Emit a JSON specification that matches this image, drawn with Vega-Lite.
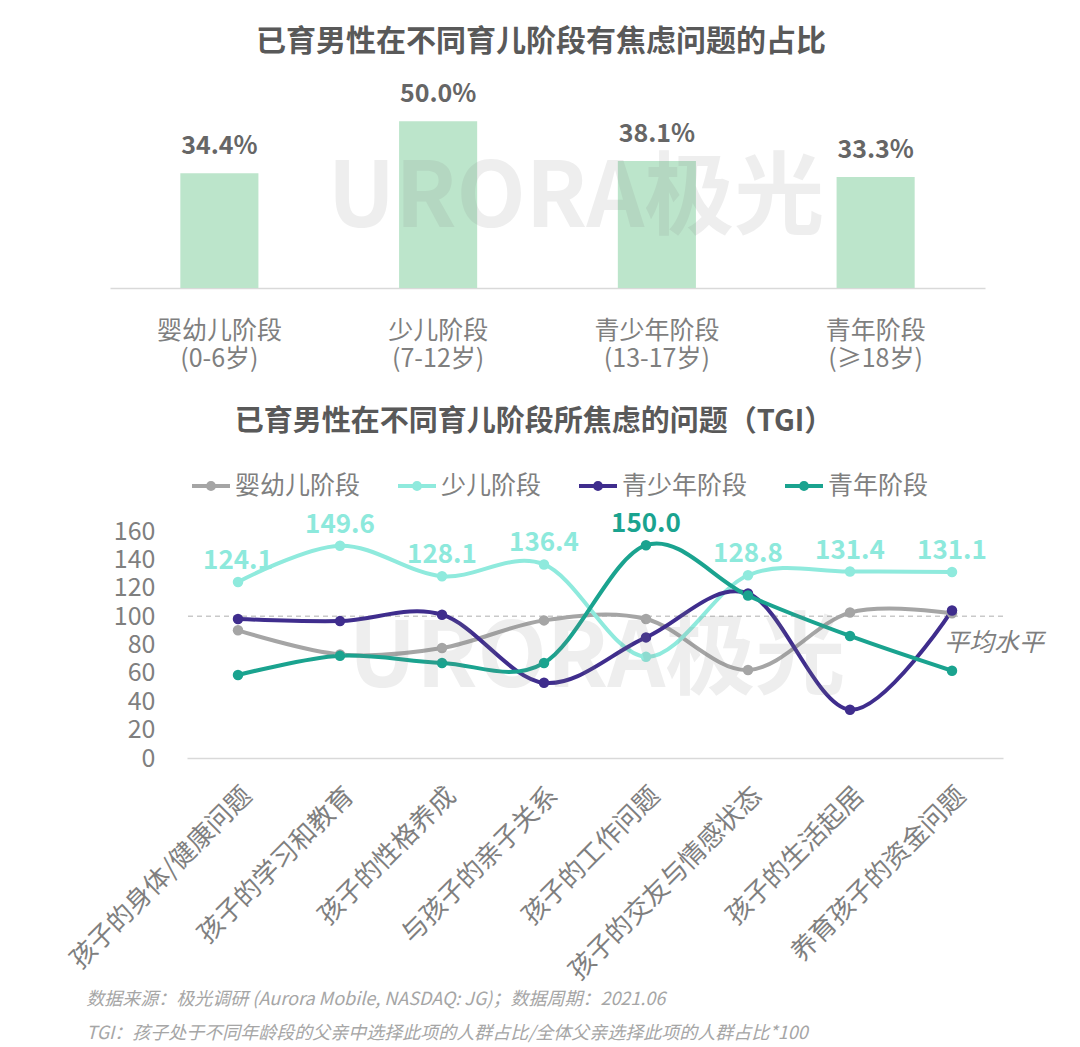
{
  "$schema": "https://vega.github.io/schema/vega-lite/v6.json",
  "padding": {"left": 65, "top": 27, "right": 5, "bottom": 5},
  "background": "white",
  "config": {"font": "Noto Sans CJK SC", "view": {"stroke": null}},
  "title": {
    "text": ["数据来源：极光调研 (Aurora Mobile, NASDAQ: JG)；数据周期：2021.06", "TGI：孩子处于不同年龄段的父亲中选择此项的人群占比/全体父亲选择此项的人群占比*100"],
    "orient": "bottom", "anchor": "start", "fontSize": 18, "fontStyle": "italic", "fontWeight": "normal",
    "color": "#a6a6a6", "lineHeight": 34, "offset": 7, "dx": 21
  },
  "bounds": "flush",
  "spacing": 243,
  "resolve": {"legend": {"color": "independent"}},
  "vconcat": [
    {
      "width": 798,
      "height": 200,
      "title": {"text": "已育男性在不同育儿阶段有焦虑问题的占比", "fontSize": 30, "fontWeight": "bold", "color": "#595959", "anchor": "middle", "dx": -45, "offset": 25},
      "data": {"values": [
        {"stage": "婴幼儿阶段 (0-6岁)", "pct": 0.344},
        {"stage": "少儿阶段 (7-12岁)", "pct": 0.500},
        {"stage": "青少年阶段 (13-17岁)", "pct": 0.381},
        {"stage": "青年阶段 (≥18岁)", "pct": 0.333}
      ]},
      "layer": [
        {
          "mark": {"type": "bar", "color": "#bce5cb"},
          "encoding": {
            "x": {"field": "stage", "type": "nominal", "sort": null,
              "scale": {"range": [-77, 798], "paddingInner": 0.643, "paddingOuter": 0.3215},
              "axis": {"title": null, "labelExpr": "split(datum.value, ' ')", "labelAngle": 0, "labelFontSize": 25, "labelColor": "#7f7f7f", "labelLineHeight": 28, "labelPadding": 30, "ticks": false, "domainColor": "#d9d9d9", "domainWidth": 1.5}},
            "y": {"field": "pct", "type": "quantitative", "scale": {"domain": [0, 0.6], "nice": false}, "axis": null}
          }
        },
        {
          "mark": {"type": "text", "dy": -27, "fontSize": 25, "fontWeight": "bold", "color": "#666666"},
          "encoding": {
            "x": {"field": "stage", "type": "nominal", "sort": null},
            "y": {"field": "pct", "type": "quantitative"},
            "text": {"field": "pct", "type": "quantitative", "format": ".1%"}
          }
        },
        {
          "data": {"values": [{"wm": "URORA极光"}]},
          "mark": {"type": "text", "fontSize": 90, "fontWeight": "bold", "color": "#808080", "opacity": 0.13, "dx": -10, "dy": 12},
          "encoding": {"text": {"field": "wm", "type": "nominal"}}
        }
      ]
    },
    {
      "width": 816,
      "height": 227,
      "title": {"text": "已育男性在不同育儿阶段所焦虑的问题（TGI）", "fontSize": 29, "fontWeight": "bold", "color": "#595959", "anchor": "middle", "dx": -61, "offset": 28},
      "data": {"values": [
        {"cat": "孩子的身体/健康问题", "series": "婴幼儿阶段", "tgi": 90.0},
        {"cat": "孩子的学习和教育", "series": "婴幼儿阶段", "tgi": 73.0},
        {"cat": "孩子的性格养成", "series": "婴幼儿阶段", "tgi": 77.5},
        {"cat": "与孩子的亲子关系", "series": "婴幼儿阶段", "tgi": 97.0},
        {"cat": "孩子的工作问题", "series": "婴幼儿阶段", "tgi": 98.0},
        {"cat": "孩子的交友与情感状态", "series": "婴幼儿阶段", "tgi": 62.0},
        {"cat": "孩子的生活起居", "series": "婴幼儿阶段", "tgi": 102.5},
        {"cat": "养育孩子的资金问题", "series": "婴幼儿阶段", "tgi": 102.0},
        {"cat": "孩子的身体/健康问题", "series": "少儿阶段", "tgi": 124.1},
        {"cat": "孩子的学习和教育", "series": "少儿阶段", "tgi": 149.6},
        {"cat": "孩子的性格养成", "series": "少儿阶段", "tgi": 128.1},
        {"cat": "与孩子的亲子关系", "series": "少儿阶段", "tgi": 136.4},
        {"cat": "孩子的工作问题", "series": "少儿阶段", "tgi": 71.3},
        {"cat": "孩子的交友与情感状态", "series": "少儿阶段", "tgi": 128.8},
        {"cat": "孩子的生活起居", "series": "少儿阶段", "tgi": 131.4},
        {"cat": "养育孩子的资金问题", "series": "少儿阶段", "tgi": 131.1},
        {"cat": "孩子的身体/健康问题", "series": "青少年阶段", "tgi": 98.0},
        {"cat": "孩子的学习和教育", "series": "青少年阶段", "tgi": 96.5},
        {"cat": "孩子的性格养成", "series": "青少年阶段", "tgi": 101.0},
        {"cat": "与孩子的亲子关系", "series": "青少年阶段", "tgi": 53.0},
        {"cat": "孩子的工作问题", "series": "青少年阶段", "tgi": 85.0},
        {"cat": "孩子的交友与情感状态", "series": "青少年阶段", "tgi": 116.0},
        {"cat": "孩子的生活起居", "series": "青少年阶段", "tgi": 34.0},
        {"cat": "养育孩子的资金问题", "series": "青少年阶段", "tgi": 104.0},
        {"cat": "孩子的身体/健康问题", "series": "青年阶段", "tgi": 58.5},
        {"cat": "孩子的学习和教育", "series": "青年阶段", "tgi": 72.0},
        {"cat": "孩子的性格养成", "series": "青年阶段", "tgi": 67.0},
        {"cat": "与孩子的亲子关系", "series": "青年阶段", "tgi": 67.0},
        {"cat": "孩子的工作问题", "series": "青年阶段", "tgi": 150.0},
        {"cat": "孩子的交友与情感状态", "series": "青年阶段", "tgi": 114.5},
        {"cat": "孩子的生活起居", "series": "青年阶段", "tgi": 86.0},
        {"cat": "养育孩子的资金问题", "series": "青年阶段", "tgi": 61.5}
      ]},
      "layer": [
        {
          "data": {"values": [{"ref": 100}]},
          "mark": {"type": "rule", "color": "#c9c9c9", "strokeDash": [5, 4], "strokeWidth": 1.5},
          "encoding": {"y": {"field": "ref", "type": "quantitative", "scale": {"domain": [0, 160], "nice": false},
            "axis": {"title": null, "values": [0, 20, 40, 60, 80, 100, 120, 140, 160], "tickCount": 12, "labelOverlap": false, "grid": false, "domain": false, "ticks": false, "labelFontSize": 25, "labelColor": "#7f7f7f", "labelPadding": 32}}}
        },
        {
          "mark": {"type": "line", "interpolate": "cardinal", "strokeWidth": 4, "point": {"filled": true, "size": 110, "opacity": 1}},
          "encoding": {
            "x": {"field": "cat", "type": "nominal", "sort": null,
              "scale": {"type": "point", "padding": 0.5},
              "axis": {"title": null, "labelAngle": -45, "labelFontSize": 26, "labelColor": "#7f7f7f", "ticks": false, "domainColor": "#d9d9d9", "domainWidth": 1.5, "labelPadding": 24, "labelLimit": 400}},
            "y": {"field": "tgi", "type": "quantitative", "scale": {"domain": [0, 160], "nice": false},
              "axis": {"title": null, "values": [0, 20, 40, 60, 80, 100, 120, 140, 160], "tickCount": 12, "labelOverlap": false, "grid": false, "domain": false, "ticks": false, "labelFontSize": 25, "labelColor": "#7f7f7f", "labelPadding": 32}},
            "color": {"field": "series", "type": "nominal",
              "scale": {"domain": ["婴幼儿阶段", "少儿阶段", "青少年阶段", "青年阶段"], "range": ["#a5a5a5", "#8feadd", "#3f2d8d", "#1aa38f"]},
              "legend": {"orient": "none", "legendX": 3, "legendY": -66, "direction": "horizontal", "title": null, "labelFontSize": 25, "labelColor": "#7f7f7f", "symbolType": "M-1,0H1M0.16,0A0.16,0.16,0,1,1,-0.16,0A0.16,0.16,0,1,1,0.16,0", "symbolSize": 1444, "symbolStrokeWidth": 4, "labelOffset": 3, "columnPadding": 29}}
          }
        },
        {
          "transform": [{"filter": "datum.series === '少儿阶段' && datum.cat !== '孩子的工作问题'"}],
          "mark": {"type": "text", "dy": -21, "fontSize": 26, "fontWeight": "bold", "color": "#8de9dc"},
          "encoding": {
            "x": {"field": "cat", "type": "nominal", "sort": null},
            "y": {"field": "tgi", "type": "quantitative"},
            "text": {"field": "tgi", "type": "quantitative", "format": ".1f"}
          }
        },
        {
          "transform": [{"filter": "datum.series === '青年阶段' && datum.cat === '孩子的工作问题'"}],
          "mark": {"type": "text", "dy": -21, "fontSize": 26, "fontWeight": "bold", "color": "#1aa38f"},
          "encoding": {
            "x": {"field": "cat", "type": "nominal", "sort": null},
            "y": {"field": "tgi", "type": "quantitative"},
            "text": {"field": "tgi", "type": "quantitative", "format": ".1f"}
          }
        },
        {
          "data": {"values": [{"cat": "养育孩子的资金问题", "tgi": 100, "note": "平均水平"}]},
          "mark": {"type": "text", "align": "left", "dx": -8, "dy": 27, "fontSize": 25, "fontStyle": "italic", "color": "#7f7f7f"},
          "encoding": {
            "x": {"field": "cat", "type": "nominal", "sort": null},
            "y": {"field": "tgi", "type": "quantitative"},
            "text": {"field": "note", "type": "nominal"}
          }
        },
        {
          "data": {"values": [{"wm": "URORA极光"}]},
          "mark": {"type": "text", "fontSize": 90, "fontWeight": "bold", "color": "#808080", "opacity": 0.13, "dx": 2, "dy": 15},
          "encoding": {"text": {"field": "wm", "type": "nominal"}}
        }
      ]
    }
  ]
}
